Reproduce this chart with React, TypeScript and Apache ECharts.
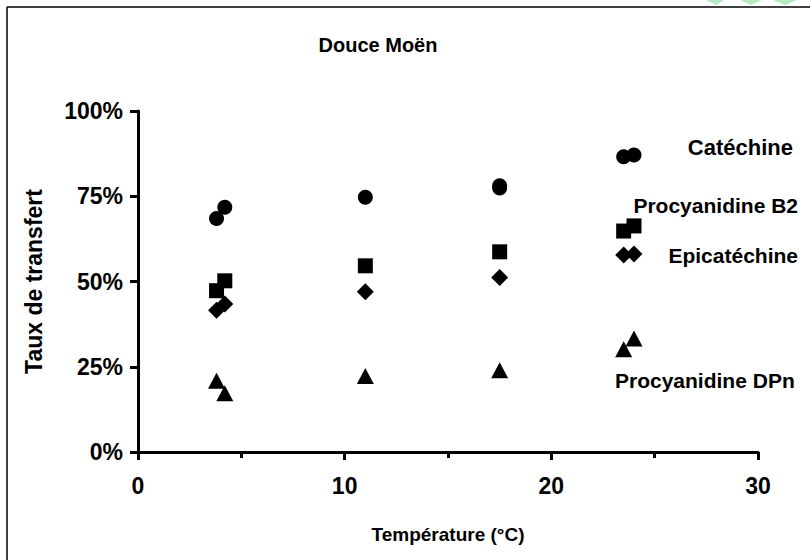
import React, { useEffect, useRef } from "react";
import * as echarts from "echarts";

const chartTitle = "Douce Moën";
const xAxisName = "Température (°C)";
const yAxisName = "Taux de transfert";

const catechineX = [3.8, 4.2, 11.0, 17.5, 17.5, 23.5, 24.0];
const catechineY = [68.5, 71.8, 74.7, 78.1, 77.4, 86.6, 87.1];

const procB2X = [3.8, 4.2, 11.0, 17.5, 23.5, 24.0];
const procB2Y = [47.3, 50.2, 54.6, 58.7, 64.8, 66.3];

const epicatechineX = [3.8, 4.2, 11.0, 17.5, 23.5, 24.0];
const epicatechineY = [41.6, 43.4, 47.0, 51.2, 57.8, 58.1];

const procDPnX = [3.8, 4.2, 11.0, 17.5, 23.5, 24.0];
const procDPnY = [20.9, 17.2, 22.3, 24.0, 30.1, 33.3];

const seriesNames = ["Catéchine", "Procyanidine B2", "Epicatéchine", "Procyanidine DPn"];

const FONT = "'Liberation Sans', Arial, sans-serif";

const zip = (xs: number[], ys: number[]) => xs.map((x, i) => [x, ys[i]]);

export default function App() {
  const ref = useRef<HTMLDivElement>(null);

  useEffect(() => {
    document.body.style.margin = "0";
    if (!ref.current) return;
    const chart = echarts.init(ref.current, null, { renderer: "svg" });

    const labelStyle = {
      fontFamily: FONT,
      fontWeight: "bold" as const,
      fontSize: 21,
      fill: "#000",
    };

    const markerStyle = { color: "#000", opacity: 1 };

    chart.setOption({
      animation: false,
      backgroundColor: "#fff",
      grid: { left: 138, top: 111, width: 620, height: 341, containLabel: false },
      xAxis: {
        type: "value",
        min: 0,
        max: 30,
        interval: 10,
        name: xAxisName,
        nameLocation: "middle",
        nameGap: 73,
        nameTextStyle: { fontFamily: FONT, fontWeight: "bold", fontSize: 19, color: "#000" },
        axisLine: { show: true, lineStyle: { color: "#000", width: 3 } },
        axisTick: { show: true, length: 8, lineStyle: { color: "#000", width: 3 } },
        minorTick: { show: true, splitNumber: 2, length: 6, lineStyle: { color: "#000", width: 3 } },
        axisLabel: { fontFamily: FONT, fontWeight: "bold", fontSize: 23, color: "#000", margin: 22 },
        splitLine: { show: false },
      },
      yAxis: {
        type: "value",
        min: 0,
        max: 100,
        interval: 25,
        name: yAxisName,
        nameLocation: "middle",
        nameGap: 93,
        nameTextStyle: { fontFamily: FONT, fontWeight: "bold", fontSize: 23, color: "#000" },
        axisLine: { show: true, lineStyle: { color: "#000", width: 3 } },
        axisTick: { show: true, length: 8, lineStyle: { color: "#000", width: 3 } },
        axisLabel: {
          fontFamily: FONT,
          fontWeight: "bold",
          fontSize: 23,
          color: "#000",
          margin: 15,
          formatter: "{value}%",
        },
        splitLine: { show: false },
      },
      series: [
        {
          name: seriesNames[0],
          type: "scatter",
          symbol: "circle",
          symbolSize: 15,
          itemStyle: markerStyle,
          data: zip(catechineX, catechineY),
        },
        {
          name: seriesNames[1],
          type: "scatter",
          symbol: "rect",
          symbolSize: 15,
          itemStyle: markerStyle,
          data: zip(procB2X, procB2Y),
        },
        {
          name: seriesNames[2],
          type: "scatter",
          symbol: "diamond",
          symbolSize: [17, 17],
          itemStyle: markerStyle,
          data: zip(epicatechineX, epicatechineY),
        },
        {
          name: seriesNames[3],
          type: "scatter",
          symbol: "triangle",
          symbolSize: [17, 16],
          itemStyle: markerStyle,
          data: zip(procDPnX, procDPnY),
        },
      ],
      graphic: [
        {
          type: "line",
          shape: { x1: 7, y1: 7, x2: 7, y2: 560 },
          style: { stroke: "#000", lineWidth: 1.5 },
        },
        {
          type: "line",
          shape: { x1: 7, y1: 7, x2: 810, y2: 7 },
          style: { stroke: "#000", lineWidth: 1.5 },
        },
        {
          type: "polygon",
          shape: { points: [[706, 0], [724, 0], [716, 5]] },
          style: { fill: "#b5e8c4" },
        },
        {
          type: "polygon",
          shape: { points: [[740, 0], [762, 0], [751, 5]] },
          style: { fill: "#b5e8c4" },
        },
        {
          type: "polygon",
          shape: { points: [[773, 0], [797, 0], [785, 5]] },
          style: { fill: "#b5e8c4" },
        },
        {
          type: "text",
          x: 378,
          y: 45,
          style: { ...labelStyle, fontSize: 20, text: chartTitle, textAlign: "center", textVerticalAlign: "middle" },
        },
        {
          type: "text",
          x: 793,
          y: 147,
          style: { ...labelStyle, fontSize: 22, text: seriesNames[0], textAlign: "right", textVerticalAlign: "middle" },
        },
        {
          type: "text",
          x: 798,
          y: 205,
          style: { ...labelStyle, text: seriesNames[1], textAlign: "right", textVerticalAlign: "middle" },
        },
        {
          type: "text",
          x: 798,
          y: 255,
          style: { ...labelStyle, text: seriesNames[2], textAlign: "right", textVerticalAlign: "middle" },
        },
        {
          type: "text",
          x: 615,
          y: 380,
          style: { ...labelStyle, text: seriesNames[3], textAlign: "left", textVerticalAlign: "middle" },
        },
      ],
    });

    return () => chart.dispose();
  }, []);

  return <div ref={ref} style={{ width: 810, height: 560 }} />;
}
